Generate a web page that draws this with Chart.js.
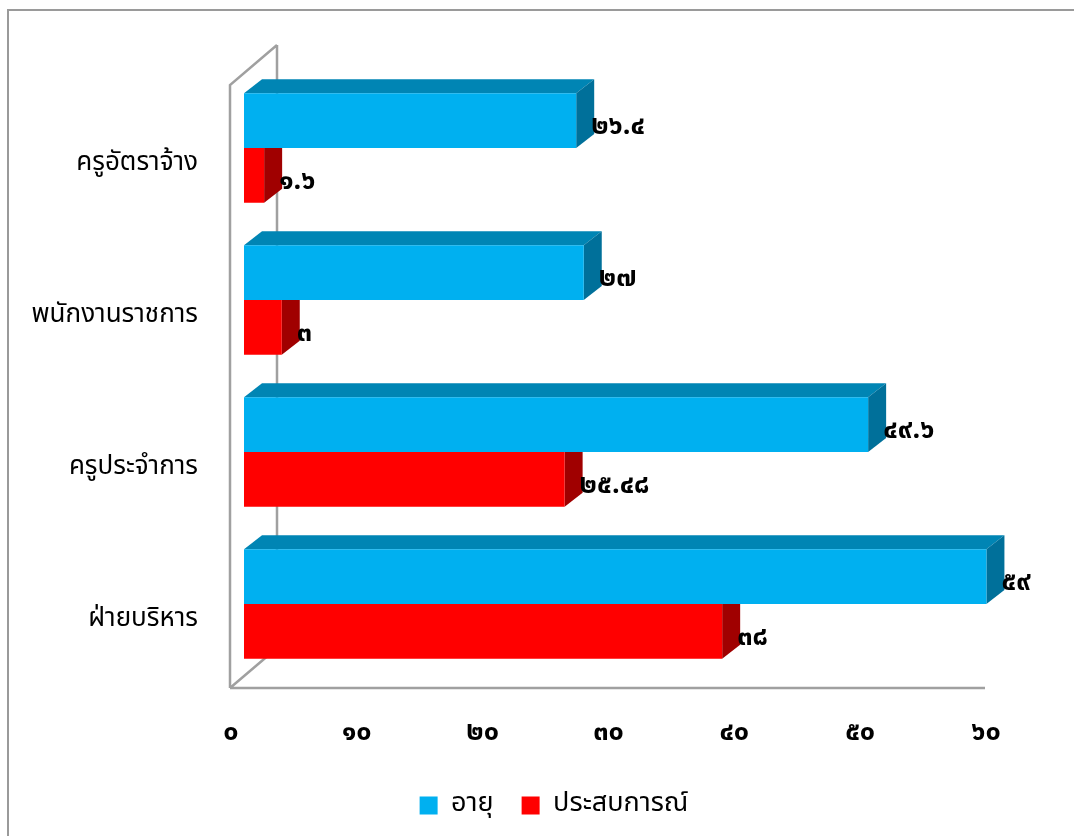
<!DOCTYPE html>
<html>
<head>
<meta charset="utf-8">
<script src="https://cdn.jsdelivr.net/npm/chart.js@4/dist/chart.umd.min.js"></script>
<style>
  body { margin: 0; background: #fff; }
  #wrap { width: 1074px; height: 836px; }
</style>
</head>
<body>
<div id="wrap"><canvas id="myChart"></canvas></div>
<script>
const categories = ["ครูอัตราจ้าง", "พนักงานราชการ", "ครูประจำการ", "ฝ่ายบริหาร"];
const ageValues = [26.4, 27, 49.6, 59];
const expValues = [1.6, 3, 25.48, 38];
const seriesNames = ["อายุ", "ประสบการณ์"];
const xTicks = [0, 10, 20, 30, 40, 50, 60];

const thaiDigits = "๐๑๒๓๔๕๖๗๘๙";
const toThai = (v) => String(v).replace(/[0-9]/g, (d) => thaiDigits[d]);

const FONT = "'Noto Sans Thai', Tahoma, 'Noto Sans', sans-serif";
const DX = 18, DY = -14; // bar depth

// faces colours for each dataset: [top, side]
const faceColors = [
  ["#0085B4", "#00709A"],
  ["#C00000", "#A00000"],
];

const shade3d = {
  id: "shade3d",
  afterLayout(chart) {
    // legend sits a bit right of the canvas centre
    const lg = chart.legend;
    const shift = 554 - (lg.left + lg.right) / 2;
    lg.left += shift;
    lg.right += shift;
  },
  beforeDraw(chart) {
    const ctx = chart.ctx;
    const a = chart.chartArea;
    const xs = chart.scales.x;
    ctx.save();
    // outer frame
    ctx.strokeStyle = "#9a9a9a";
    ctx.lineWidth = 2;
    ctx.beginPath();
    ctx.moveTo(8, 900);
    ctx.lineTo(8, 10);
    ctx.lineTo(1100, 10);
    ctx.stroke();
    // walls and floor
    const wx = a.left - 14, fy = a.bottom + 8, ty = a.top + 13;
    const bx = wx + 47, by = -40;
    ctx.strokeStyle = "#a0a0a0";
    ctx.lineWidth = 2.5;
    ctx.beginPath();
    ctx.moveTo(bx, ty + by);
    ctx.lineTo(bx, fy + by);
    ctx.moveTo(wx, fy);
    ctx.lineTo(bx, fy + by);
    ctx.moveTo(wx, fy);
    ctx.lineTo(wx, ty);
    ctx.lineTo(bx, ty + by);
    ctx.moveTo(wx, fy);
    ctx.lineTo(xs.getPixelForValue(60) - 14, fy);
    ctx.stroke();
    ctx.restore();
  },
  beforeDatasetsDraw(chart) {
    const ctx = chart.ctx;
    ctx.save();
    chart.data.datasets.forEach((ds, di) => {
      const meta = chart.getDatasetMeta(di);
      meta.data.forEach((bar) => {
        const top = bar.y - bar.height / 2;
        const bot = bar.y + bar.height / 2;
        const l = bar.base, r = bar.x;
        // top face
        ctx.fillStyle = faceColors[di][0];
        ctx.beginPath();
        ctx.moveTo(l, top);
        ctx.lineTo(l + DX, top + DY);
        ctx.lineTo(r + DX, top + DY);
        ctx.lineTo(r, top);
        ctx.closePath();
        ctx.fill();
        // side face
        ctx.fillStyle = faceColors[di][1];
        ctx.beginPath();
        ctx.moveTo(r, top);
        ctx.lineTo(r + DX, top + DY);
        ctx.lineTo(r + DX, bot + DY);
        ctx.lineTo(r, bot);
        ctx.closePath();
        ctx.fill();
      });
    });
    ctx.restore();
  },
  afterDatasetsDraw(chart) {
    const ctx = chart.ctx;
    ctx.save();
    ctx.fillStyle = "#000";
    ctx.font = "bold 27px " + FONT;
    ctx.textAlign = "left";
    ctx.textBaseline = "middle";
    chart.data.datasets.forEach((ds, di) => {
      const meta = chart.getDatasetMeta(di);
      meta.data.forEach((bar, i) => {
        ctx.fillText(toThai(ds.data[i]), bar.x + 15, bar.y + 8);
      });
    });
    ctx.restore();
  },
};

const ctx = document.getElementById("myChart").getContext("2d");
const myChart = new Chart(ctx, {
  type: "bar",
  data: {
    labels: categories,
    datasets: [
      {
        label: seriesNames[0],
        data: ageValues,
        backgroundColor: "#00B0F0",
        borderWidth: 0,
      },
      {
        label: seriesNames[1],
        data: expValues,
        backgroundColor: "#FF0000",
        borderWidth: 0,
      },
    ],
  },
  options: {
    indexAxis: "y",
    responsive: true,
    maintainAspectRatio: false,
    animation: false,
    layout: { padding: { top: 72, right: 75, left: 0, bottom: 7 } },
    datasets: {
      bar: { barPercentage: 1, categoryPercentage: 0.72 },
    },
    scales: {
      x: {
        min: 0,
        max: 60,
        afterBuildTicks: (scale) => {
          scale.ticks = xTicks.map((v) => ({ value: v }));
        },
        afterFit: (scale) => { scale.height = 84; },
        grid: { display: false, drawTicks: false },
        border: { display: false },
        ticks: {
          callback: (v) => toThai(v),
          color: "#000",
          font: { family: FONT, size: 27, weight: "bold" },
          padding: 38,
          labelOffset: -13,
          maxRotation: 0,
        },
      },
      y: {
        afterFit: (scale) => { scale.width = 244; },
        grid: { display: false, drawTicks: false },
        border: { display: false },
        ticks: {
          color: "#000",
          font: { family: FONT, size: 26 },
          padding: 46,
          labelOffset: 17,
        },
      },
    },
    plugins: {
      legend: {
        position: "bottom",
        labels: {
          color: "#000",
          font: { family: FONT, size: 27 },
          boxWidth: 18,
          boxHeight: 18,
          padding: 28,
        },
      },
      tooltip: { enabled: false },
    },
  },
  plugins: [shade3d],
});
</script>
</body>
</html>
